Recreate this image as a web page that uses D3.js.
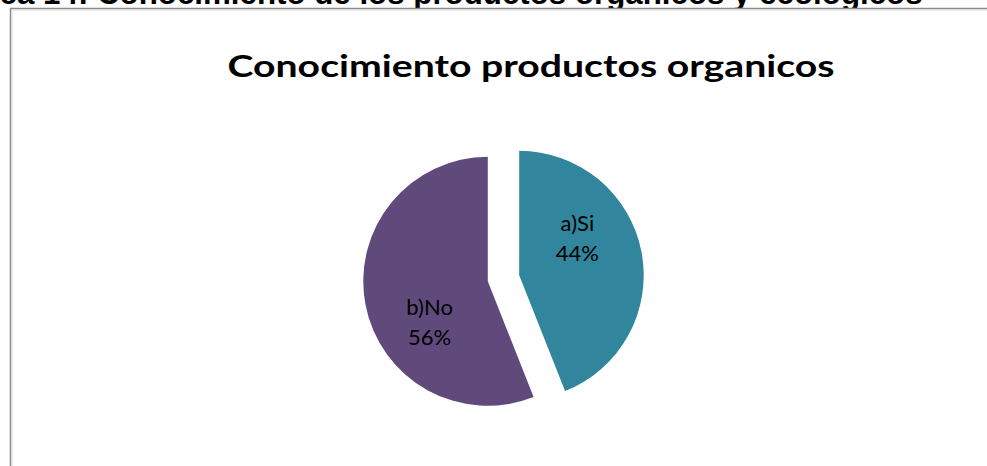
<!DOCTYPE html>
<html>
<head>
<meta charset="utf-8">
<script src="https://cdn.jsdelivr.net/npm/d3@7"></script>
<style>
  html, body { margin: 0; padding: 0; background: #fff; }
  svg { display: block; }
</style>
</head>
<body>
<svg id="chart" width="987" height="466"></svg>
<script>
// Survey answers: do respondents know organic products?
const categories = ["a)Si", "b)No"];
const shares = [44, 56];
const sliceColors = ["#31859C", "#604A7B"];
const chartTitle = "Conocimiento productos organicos";
const captionPrefix = "Gráfica 14: ";
const captionText = "Conocimiento de los productos organicos y ecologicos";

const svg = d3.select("#chart");
const W = 987, H = 466;

// Document caption above the chart frame (cut by the page top)
const cap = svg.append("text")
  .attr("y", 4)
  .attr("font-family", "'Liberation Sans', Arial, sans-serif")
  .attr("font-weight", "bold")
  .attr("font-size", 20)
  .attr("fill", "#000");
const capMain = cap.append("tspan").text(captionText);
// fit the main caption between x=97 and x=923
const capLen = capMain.node().getComputedTextLength();
const capSize = 20 * 826 / capLen;
cap.attr("font-size", capSize);
cap.text(null);
cap.append("tspan").attr("text-anchor", "end").attr("x", 97).text(captionPrefix);
cap.append("tspan").attr("x", 97).text(captionText);

// Chart frame
svg.append("rect")
  .attr("x", 10.5).attr("y", 8.5)
  .attr("width", W + 20).attr("height", H + 20)
  .attr("fill", "#fff")
  .attr("stroke", "#8a8a8a")
  .attr("stroke-width", 1.5);
svg.append("rect")
  .attr("x", 12).attr("y", 10)
  .attr("width", W + 20).attr("height", H + 20)
  .attr("fill", "none")
  .attr("stroke", "#d9d9d9")
  .attr("stroke-width", 1);

// Chart title
svg.append("text")
  .attr("x", 531)
  .attr("y", 77)
  .attr("text-anchor", "middle")
  .attr("font-family", "Lato, 'Open Sans', sans-serif")
  .attr("font-weight", "bold")
  .attr("font-size", 31)
  .attr("fill", "#000")
  .attr("textLength", 607)
  .attr("lengthAdjust", "spacingAndGlyphs")
  .text(chartTitle);

// Exploded pie
const cx = 503.5, cy = 278.3, radius = 124.5, explode = 16;
const data = categories.map((c, i) => ({ label: c, value: shares[i], color: sliceColors[i] }));
const pie = d3.pie().value(d => d.value).sort(null);
const arc = d3.arc().innerRadius(0).outerRadius(radius);
const arcs = pie(data);

const g = svg.append("g").attr("transform", `translate(${cx},${cy})`);
const slice = g.selectAll("g.slice")
  .data(arcs)
  .join("g")
  .attr("class", "slice")
  .attr("transform", d => {
    const mid = (d.startAngle + d.endAngle) / 2;
    return `translate(${explode * Math.sin(mid)},${-explode * Math.cos(mid)})`;
  });

slice.append("path")
  .attr("d", arc)
  .attr("fill", d => d.data.color);

// Data labels: category and percentage, two lines
const labelR = 70, labelTurn = -23 * Math.PI / 180;
const lbl = slice.append("text")
  .attr("text-anchor", "middle")
  .attr("font-family", "Lato, 'Open Sans', sans-serif")
  .attr("font-size", 22)
  .attr("fill", "#000")
  .attr("transform", d => {
    const a = (d.startAngle + d.endAngle) / 2 + labelTurn;
    return `translate(${labelR * Math.sin(a)},${-labelR * Math.cos(a)})`;
  });
lbl.append("tspan").attr("x", 0).attr("dy", "-0.25em").text(d => d.data.label);
lbl.append("tspan").attr("x", 0).attr("dy", 30).text(d => d.data.value + "%");
</script>
</body>
</html>
